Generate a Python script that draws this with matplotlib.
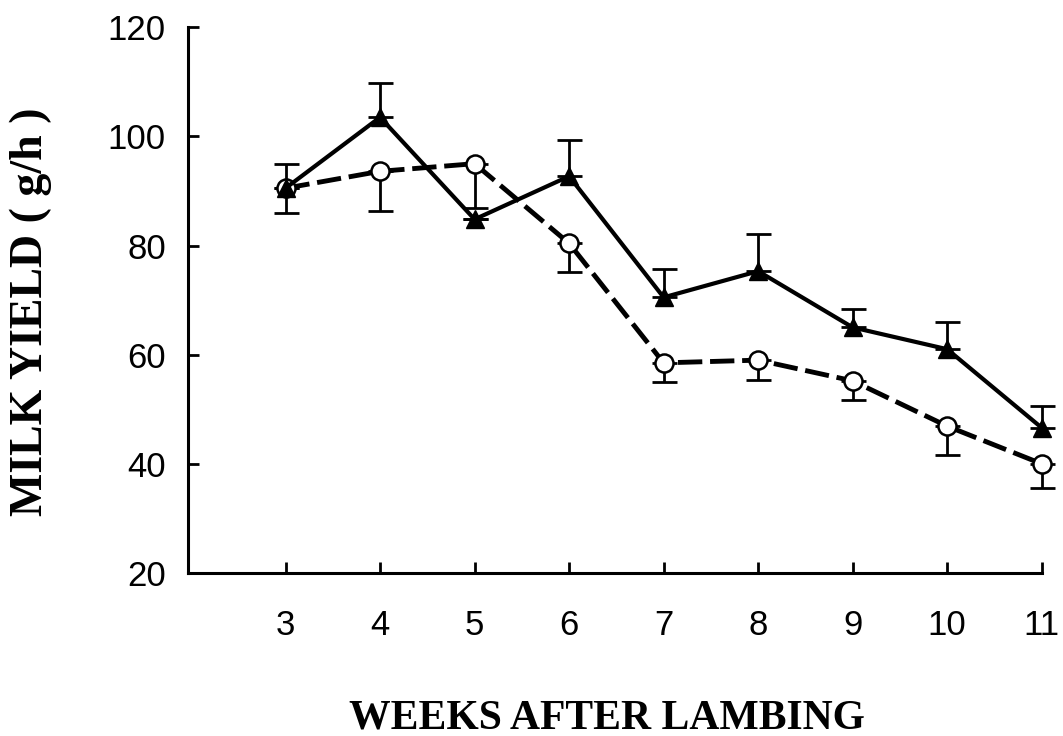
import numpy as np
import matplotlib.pyplot as plt

# weekly milk yield, two groups
weeks = [3, 4, 5, 6, 7, 8, 9, 10, 11]
tri_yield = [90.5, 103.5, 84.8, 92.7, 70.5, 75.3, 65.0, 61.0, 46.6]
tri_err_up = [4.5, 6.2, 0.0, 6.6, 5.2, 6.8, 3.4, 5.0, 4.0]
circ_yield = [90.5, 93.6, 95.0, 80.4, 58.5, 59.0, 55.2, 46.9, 40.0]
circ_err_down = [4.5, 7.3, 8.2, 5.3, 3.5, 3.7, 3.5, 5.3, 4.4]

yticks = [20, 40, 60, 80, 100, 120]

fig = plt.figure(figsize=(10.63, 7.36), dpi=100)
ax = fig.add_axes([0.177, 0.2215, 0.803, 0.7415])

zeros = np.zeros(len(weeks))

# dashed series with open circles, error bars downward
eb = ax.errorbar(weeks, circ_yield, yerr=[circ_err_down, zeros], fmt='none',
                 ecolor='black', elinewidth=2, capsize=9, capthick=2, zorder=2)
ax.plot(weeks, circ_yield, color='black', linewidth=3.5, dashes=(5, 1.6),
        marker='o', markersize=13, markerfacecolor='white',
        markeredgecolor='black', markeredgewidth=1.8, zorder=3, clip_on=False)

# solid series with filled triangles, error bars upward
eb2 = ax.errorbar(weeks, tri_yield, yerr=[zeros, tri_err_up], fmt='none',
                  ecolor='black', elinewidth=2, capsize=9, capthick=2, zorder=2)
ax.plot(weeks, tri_yield, color='black', linewidth=3, marker='^',
        markersize=13, markerfacecolor='black', markeredgecolor='black',
        zorder=4, clip_on=False)

for container in (eb, eb2):
    for art in container.lines[1] + container.lines[2]:
        art.set_clip_on(False)

ax.set_xlim(1.97, 11.0)
ax.set_ylim(20, 120)
ax.set_xticks(weeks)
ax.set_yticks(yticks)

for s in ['top', 'right']:
    ax.spines[s].set_visible(False)
for s in ['left', 'bottom']:
    ax.spines[s].set_linewidth(2.2)

ax.tick_params(direction='in', length=8, width=2, labelsize=25)
ax.tick_params(axis='x', pad=26)
ax.tick_params(axis='y', pad=16)
for lab in ax.get_xticklabels() + ax.get_yticklabels():
    lab.set_fontfamily('Liberation Sans')

fig.text(0.571, 0.024, 'WEEKS AFTER LAMBING', ha='center', va='center',
         fontsize=30, fontweight='bold', family='Liberation Serif')
fig.text(0.029, 0.576, 'MILK YIELD ( g/h )', ha='center', va='center',
         rotation=90, fontsize=33, fontweight='bold', family='Liberation Serif')

fig.savefig('out.png', dpi=100)
